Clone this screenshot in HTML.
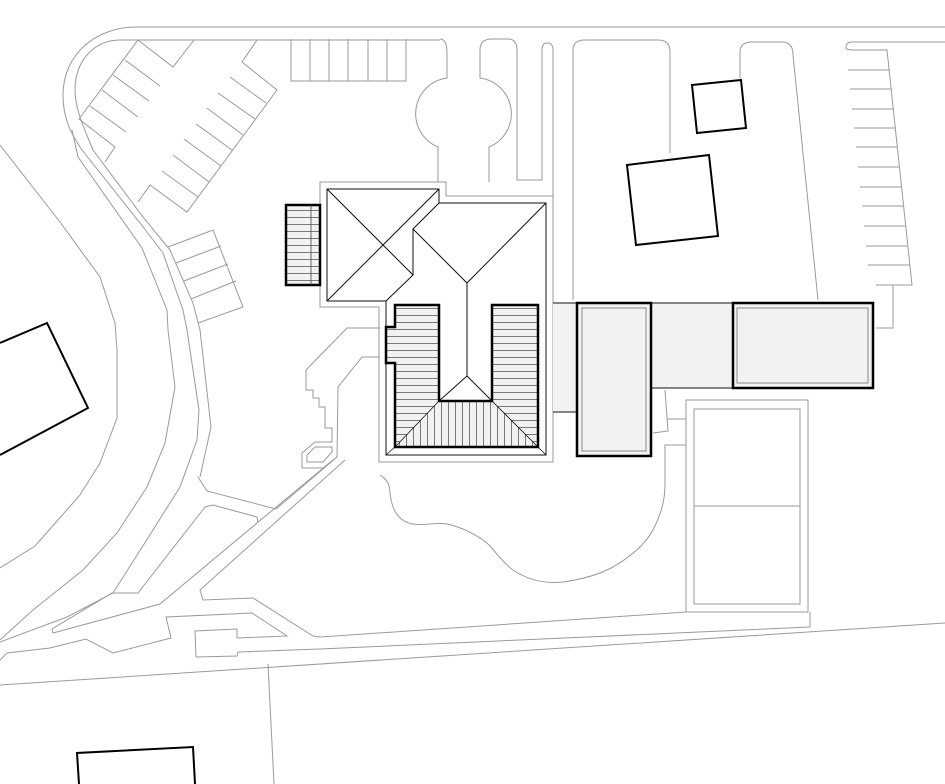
<!DOCTYPE html>
<html><head><meta charset="utf-8"><style>html,body{margin:0;padding:0;background:#fff}svg{display:block}</style></head>
<body>
<svg width="945" height="784" viewBox="0 0 945 784" xmlns="http://www.w3.org/2000/svg">
<defs>
<pattern id="hh" width="8" height="7" patternUnits="userSpaceOnUse"><rect width="8" height="7" fill="#f2f2f2"/><line x1="0" y1="0.5" x2="8" y2="0.5" stroke="#444" stroke-width="0.7"/></pattern>
<pattern id="vv" width="7" height="8" patternUnits="userSpaceOnUse"><rect width="7" height="8" fill="#f2f2f2"/><line x1="0.5" y1="0" x2="0.5" y2="8" stroke="#444" stroke-width="0.7"/></pattern>
</defs>
<g fill="none" stroke="#9a9a9a" stroke-width="1">
<!-- road top & curve -->
<path d="M945,27 H137 C95,27 63,55 63,95 C63,120 72,135 82,150 L140,223 L163,253 L183,310 L187,330 L199,410 L197,440 L180,487 L153,530 L113,593 L67,617 L0,642"/>
<path d="M440,40 H120 C95,40 75,60 75,90 C75,110 85,130 93,150 L143,217 L170,250 L193,303 L200,330 L211,427 L200,477"/>
<path d="M72,130 L78,157 L142,248 L167,310 L168,330 L175,387 L165,443 L147,487 L117,533 L83,570 L33,610 L0,640"/>
<path d="M0,145 L60,222 L100,277 L115,323 L117,350 L117,418 L100,463 L80,495 L35,546 L0,568"/>
<!-- top parking -->
<path d="M291,39 V81 H406 V39 M310,39 V81 M329,39 V81 M348,39 V81 M368,39 V81 M387,39 V81"/>
<path d="M440,39 Q447,39 447,53 V78 A36,36 0 0 0 438,147 V182"/>
<path d="M489,182 V147 A36,36 0 0 0 480,78 V50 Q480,39 492,39 H508 Q517,39 517,50 V180 H542 V50 Q542,43 547,43 Q553,43 553,50 V197"/>
<path d="M573,300 V50 Q573,40 585,40 H658 Q670,40 670,52 V153"/>
<path d="M740,78 V52 Q740,42 752,42 H782 Q793,42 793,55 L818,300"/>
<!-- right parking -->
<path d="M945,42 H852 Q846,42 846,48 Q847,50 852,50 H887 L912,285 H876 M893,285 V328 H876"/>
<path d="M848,70H889 M850,89H891 M852,109H893 M854,128H895 M856,147H897 M858,167H899 M860,187H901 M862,206H903 M864,226H905 M866,246H907 M868,265H910"/>
<!-- angled parking left -->
<path d="M138,40 L79,119 L115,147 L105,162"/>
<path d="M138,40 L173,67 L194,40"/>
<path d="M125,60L160,86 M113,75L149,101 M102,90L138,117 M90,106L126,132"/>
<path d="M257,40 L242,62 L277,90 L187,212 L150,185 L138,202"/>
<path d="M230,77L266,103 M218,93L255,119 M207,108L243,135 M196,124L232,150 M184,139L221,166 M173,155L209,182 M162,171L198,197"/>
<path d="M168,247 L213,230 L243,307 L198,323 M176,263 L221,246 M184,281 L228,264 M191,299 L236,281"/>
<!-- steps & paths left of building -->
<path d="M380,328 H347 L306,370 V390 H313 V398 H319 V407 H325 V428 H332 V442 H315 L302,453 V468 H323 L337,457 L338,387 L362,357 H380"/>
<path d="M315,447 H332 V452 L323,462 H307 V455 Z"/>
<path d="M337,457 L276,509 L207,491 L198,477"/>
<path d="M333,460 L257,523 L160,604 L53,633 L52,629 L112,593 H138 L205,507 L213,505 L257,517 L258,523"/>
<path d="M345,460 L200,590 L203,600 L253,598 L313,636 L320,637 L686,612"/>
<path d="M0,660 L7,653 L50,648 L86,639 L113,653 L171,638 L166,617 L252,613 L287,636 L237,638 V629 L195,631 L196,657 L237,656 L238,652 L320,649 L810,627 V612"/>
<path d="M0,685 L945,623"/>
<path d="M268,664 L274,784"/>
<!-- lawn -->
<path d="M380,475 C388,480 390,486 390,493 C392,512 400,522 413,524 C425,526 435,522 447,524 C465,528 478,536 487,543 C497,553 503,563 513,570 C528,580 545,584 563,582 C585,579 600,574 613,567 C630,557 645,545 653,530 C662,512 665,500 665,483 V445 H686"/>
<path d="M667,419 H686 M653,433 L668,431 L665,390"/>
<!-- tennis -->
<rect x="686" y="400" width="122" height="212"/>
<rect x="694" y="409" width="106" height="195"/>
<path d="M694,506 H800"/>
<!-- building outline -->
<path d="M320,182 H446 V196 H553 V462 H379 V307 H320 Z"/>
</g>
<!-- gray band -->
<path d="M553,303 H873 V388 H651 V456 H577 V412 H553 Z" fill="#f2f2f2" stroke="none"/>
<g fill="none" stroke="#111" stroke-width="1">
<path d="M327,189 H439 V203 H546 V455 H386 V301 H327 Z"/>
<path d="M327,189 L413,275 M439,189 L327,301 M439,203 L413,229 V275 L386,301 M413,229 L467,283 L546,203 M467,283 V376 L439,401 M467,376 L492,401"/>
<path d="M553,303 H577 M553,412 H577 M651,388 H733 M651,303 H733"/>
</g>
<!-- U roof -->
<path d="M395,305 H439 V401 H492 V305 H538 V447 H395 V363 H386 V327 H395 Z" fill="url(#hh)" stroke="none"/>
<path d="M439,401 H492 L537,446 H396 Z" fill="url(#vv)" stroke="none"/>
<path d="M439,401 L396,446 M492,401 L537,446 M386,455 L396,446 M546,455 L537,446" stroke="#111" stroke-width="0.8" fill="none"/>
<path d="M395,305 H439 V401 H492 V305 H538 V447 H395 V363 H386 V327 H395 Z" fill="none" stroke="#000" stroke-width="2.5"/>
<!-- stair left -->
<rect x="286" y="205" width="34" height="80" fill="url(#hh)" stroke="#000" stroke-width="2.5"/>
<line x1="311" y1="205" x2="311" y2="285" stroke="#444" stroke-width="0.8"/>
<!-- wings -->
<g stroke="#000" fill="#f2f2f2">
<rect x="577" y="303" width="74" height="153" stroke-width="2.5"/>
<rect x="582" y="308" width="64" height="143" stroke="#888" stroke-width="1"/>
<rect x="733" y="303" width="140" height="85" stroke-width="2.5"/>
<rect x="737" y="308" width="131" height="75" stroke="#888" stroke-width="1"/>
</g>
<g fill="none" stroke="#000" stroke-width="2">
<path d="M692,85 L741,80 L746,128 L697,133 Z"/>
<path d="M627,165 L709,155 L718,236 L636,245 Z"/>
<path d="M0,343 L47,323 L88,408 L0,455"/>
<path d="M79,784 L77,753 L193,747 L195,784"/>
</g>
</svg>
</body></html>
